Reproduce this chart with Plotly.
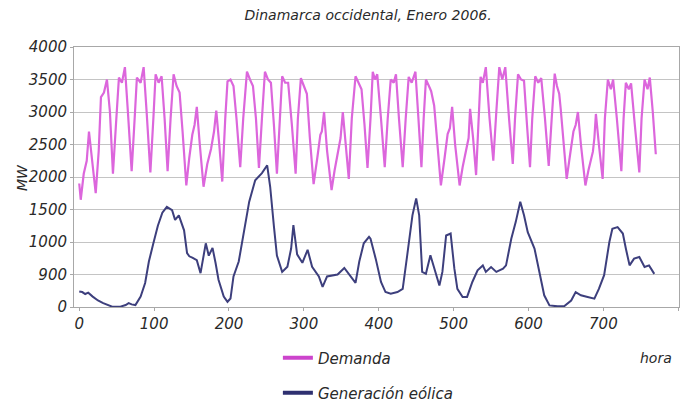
import plotly.graph_objects as go

# ---- data ----
hours_demand = [0, 2, 6, 10, 13, 17, 22,
                26, 29, 33, 37, 41, 45,
                49, 53, 57, 61, 65, 70,
                74, 77, 82, 86, 90, 95,
                99, 102, 106, 110, 114, 118,
                122, 126, 130, 134, 138, 143,
                147, 151, 154, 157, 161, 166,
                171, 176, 180, 183, 187, 191,
                195, 198, 202, 206, 210, 215,
                219, 224, 228, 232, 236, 240,
                244, 248, 252, 256, 260, 264,
                268, 271, 275, 279, 284, 289,
                292, 296, 300, 304, 308, 313,
                318, 322, 324, 327, 331, 337,
                341, 346, 349, 352, 356, 360,
                364, 369, 373, 377, 381, 385,
                389, 392, 395, 398, 403, 408,
                412, 416, 420, 423, 427, 432,
                436, 440, 444, 449, 453, 457,
                460, 463, 467, 470, 474, 478, 483,
                488, 492, 495, 498, 502, 508,
                512, 518, 520, 522, 526, 530,
                533, 536, 539, 543, 548, 553,
                557, 561, 565, 569, 574, 579,
                582, 586, 590, 594, 598, 602,
                605, 609, 613, 617, 622, 627,
                631, 635, 638, 641, 643, 647, 651,
                655, 660, 663, 666, 670, 676,
                680, 686, 688, 690, 694, 699,
                702, 706, 710, 713, 718, 724,
                727, 730, 734, 737, 742, 748,
                751, 755, 759, 762, 766, 770]
demand_mw = [1900, 1650, 2050, 2250, 2700, 2300, 1750,
             2400, 3230, 3300, 3500, 3000, 2050,
             2800, 3530, 3450, 3690, 3000, 2090,
             2900, 3530, 3450, 3690, 3000, 2070,
             2900, 3580, 3450, 3550, 2900, 2090,
             2900, 3580, 3400, 3300, 2700, 1870,
             2300, 2650, 2800, 3080, 2500, 1850,
             2200, 2430, 2700, 3020, 2500, 1930,
             2900, 3470, 3500, 3400, 2900, 2150,
             2900, 3620, 3500, 3400, 2900, 2140,
             2900, 3620, 3500, 3450, 2800, 2050,
             2900, 3550, 3450, 3450, 2800, 2050,
             2900, 3520, 3400, 3280, 2600, 1890,
             2300, 2650, 2700, 3000, 2400, 1800,
             2100, 2420, 2600, 3000, 2500, 1970,
             2900, 3550, 3450, 3350, 2800, 2140,
             2900, 3620, 3500, 3580, 2900, 2150,
             2900, 3500, 3450, 3580, 2900, 2150,
             2900, 3540, 3450, 3620, 2900, 2150,
             2900, 3500, 3400, 3320, 3100, 2500, 1870,
             2300, 2660, 2750, 3080, 2500, 1870,
             2150, 2460, 2600, 3050, 2600, 2030,
             2900, 3540, 3450, 3690, 2900, 2250,
             3000, 3690, 3500, 3690, 2900, 2200,
             2900, 3580, 3500, 3480, 2800, 2150,
             2900, 3550, 3450, 3520, 2900, 2170,
             2900, 3590, 3400, 3280, 3050, 2500, 1970,
             2300, 2700, 2800, 3000, 2500, 1870,
             2100, 2390, 2600, 2970, 2500, 1970,
             2900, 3500, 3350, 3500, 2900, 2090,
             2900, 3450, 3350, 3440, 2800, 2070,
             2900, 3500, 3350, 3530, 3000, 2350]

hours_wind = [0, 4, 8, 12, 18, 25, 32, 44, 55, 62, 66, 70, 75, 82, 88, 93,
              99, 105, 111, 117, 124, 128, 133, 140, 144, 147, 151, 157, 162,
              166, 169, 173, 178, 182, 186, 193, 198, 202, 206, 213, 220, 227,
              235, 244, 251, 255, 260, 264, 271, 278, 283, 286, 291, 298, 305,
              311, 320, 325, 331, 338, 345, 354, 363, 369, 374, 380, 387, 389,
              396, 403, 409, 416, 425, 432, 438, 445, 450, 454, 458, 463, 469,
              474, 481, 485, 490, 496, 501, 505, 512, 518, 525, 532, 539, 543,
              550, 557, 566, 570, 577, 583, 589, 594, 599, 608, 614, 621, 628,
              639, 648, 657, 663, 670, 679, 688, 694, 701, 708, 712, 719, 726,
              730, 735, 741, 748, 755, 761, 768]
wind_mw = [240, 230, 200, 220, 160, 100, 60, 5, 5, 30, 60, 40, 30, 160, 370, 700,
           980, 1250, 1450, 1540, 1490, 1340, 1410, 1180, 830, 780, 760, 720, 520,
           800, 980, 790, 910, 680, 420, 160, 80, 130, 470, 700, 1130, 1620,
           1950, 2060, 2180, 1850, 1240, 790, 540, 620, 900, 1260, 810, 680, 880,
           620, 470, 310, 470, 480, 500, 600, 450, 370, 700, 980, 1080, 1050,
           740, 385, 230, 205, 230, 280, 795, 1410, 1670, 1410, 540, 510, 795,
           590, 330, 540, 1100, 1130, 590, 280, 155, 155, 385, 565, 640, 540,
           615, 540, 590, 640, 1050, 1310, 1620, 1410, 1150, 900, 590, 180, 25,
           10, 15, 100, 230, 180, 155, 128, 280, 490, 1000, 1205, 1230, 1130,
           900, 640, 745, 770, 615, 640, 510]

x_ticks = [0, 100, 200, 300, 400, 500, 600, 700, 800]
y_ticks = [0, 500, 1000, 1500, 2000, 2500, 3000, 3500, 4000]
y_tick_labels = ["0", "900", "1000", "1500", "2000", "2500", "3000", "3500", "4000"]

PINK = "#dc66dc"
NAVY = "#3d3f7d"
FONT = "DejaVu Sans"
TXT = "#2a2a2a"

fig = go.Figure()
fig.add_trace(go.Scatter(x=hours_demand, y=demand_mw, mode="lines",
                         line=dict(color=PINK, width=2.2), showlegend=False))
fig.add_trace(go.Scatter(x=hours_wind, y=wind_mw, mode="lines",
                         line=dict(color=NAVY, width=2), showlegend=False))
# legend entries (thicker sample lines)
fig.add_trace(go.Scatter(x=[None], y=[None], mode="lines", name="Demanda",
                         line=dict(color="#cc44cc", width=4), legend="legend"))
fig.add_trace(go.Scatter(x=[None], y=[None], mode="lines", name="Generación eólica",
                         line=dict(color="#2e3070", width=4), legend="legend2"))

legend_style = dict(xanchor="left", yanchor="middle", bgcolor="rgba(0,0,0,0)",
                    font=dict(family=FONT, size=15, style="italic", color=TXT))

fig.update_layout(
    width=683, height=405, autosize=False,
    margin=dict(l=74, r=4, t=47, b=98, autoexpand=False),
    paper_bgcolor="white", plot_bgcolor="white",
    title=dict(text="Dinamarca occidental, Enero 2006.", x=0.539, xanchor="center",
               y=0.963, yanchor="middle",
               font=dict(family=FONT, size=14, style="italic", color=TXT)),
    xaxis=dict(range=[-7, 801], tickvals=x_ticks, showgrid=False, zeroline=False,
               showline=True, mirror=True, linecolor="#a8a8a8", linewidth=1,
               ticks="outside", ticklen=3, tickcolor="#a8a8a8",
               tickfont=dict(family=FONT, size=15, style="italic", color=TXT)),
    yaxis=dict(range=[0, 4000], tickvals=y_ticks, ticktext=y_tick_labels,
               showgrid=True, gridcolor="#c4c4c4", gridwidth=1, zeroline=False,
               showline=True, mirror=True, linecolor="#a8a8a8", linewidth=1,
               ticks="outside", ticklen=3, tickcolor="#a8a8a8",
               tickfont=dict(family=FONT, size=15, style="italic", color=TXT)),
    legend=dict(x=0.337, y=-0.196, **legend_style),
    legend2=dict(x=0.337, y=-0.331, **legend_style),
    annotations=[
        dict(text="hora", xref="paper", yref="paper", x=0.962, y=-0.196,
             showarrow=False, xanchor="center", yanchor="middle",
             font=dict(family=FONT, size=14, style="italic", color=TXT)),
        dict(text="MW", xref="paper", yref="paper", x=-0.086, y=0.5,
             showarrow=False, textangle=-90, xanchor="center", yanchor="middle",
             font=dict(family=FONT, size=14, style="italic", color=TXT)),
    ],
)

fig.write_html("out.html", config={"displayModeBar": False},
               post_script="document.body.style.margin='0px';")
